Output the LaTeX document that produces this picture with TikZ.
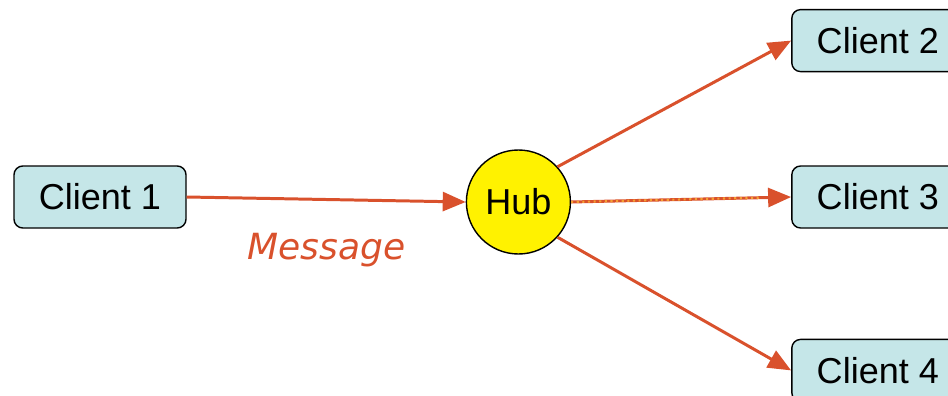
\documentclass[tikz,border=0pt]{standalone}
\usepackage{fontspec}
\setmainfont{Liberation Sans}
\newfontfamily\msgfont{DejaVu Sans}
\usepackage{tikz}
\usetikzlibrary{positioning, arrows.meta, calc}

\definecolor{boxcyan}{HTML}{C5E6E8}
\definecolor{linkred}{HTML}{D9512C}
\definecolor{dotorange}{HTML}{F5A033}

\begin{document}
\begin{tikzpicture}[
    client/.style = {draw, line width=0.8pt, rounded corners=5pt, fill=boxcyan,
                     minimum width=3.44cm, minimum height=1.24cm,
                     inner sep=0pt, font=\fontsize{20.5}{24}\selectfont},
    hubnode/.style = {circle, draw, line width=0.8pt, fill=yellow,
                      minimum size=2.08cm, inner sep=0pt,
                      font=\fontsize{20.5}{24}\selectfont}
    ]
            % styles
            \tikzstyle{arrow} = [line width=1.7pt, -{Triangle[length=0.46cm, width=0.38cm]}, draw=linkred]

            \useasboundingbox (0,0) rectangle (18.96,7.9);

            \node (c1) [client] at (2.0,3.96) {Client 1};
            \node (hub) [hubnode, right=5.58cm of c1, yshift=-0.1cm] {Hub};
            \node (c3) [client, right=4.4cm of hub, yshift=0.1cm] {Client 3};
            \node (c2) [client, above=1.86cm of c3] {Client 2};
            \node (c4) [client, below=2.2cm of c3] {Client 4};

            \draw [arrow] (c1.east) -- (hub.west)
                node[midway, below=15pt, text=linkred, font=\msgfont\itshape\fontsize{20.5}{24}\selectfont] (msg) {Message};
            \draw [arrow] (hub.42) -- (c2.west);
            \draw [arrow] (hub.east) -- (c3.west);
            \draw [line width=1.2pt, dotted, draw=dotorange] (hub.east) -- ($(hub.east)!0.86!(c3.west)$);
            \draw [arrow] (hub.-42) -- (c4.west);
    \end{tikzpicture}
\end{document}
